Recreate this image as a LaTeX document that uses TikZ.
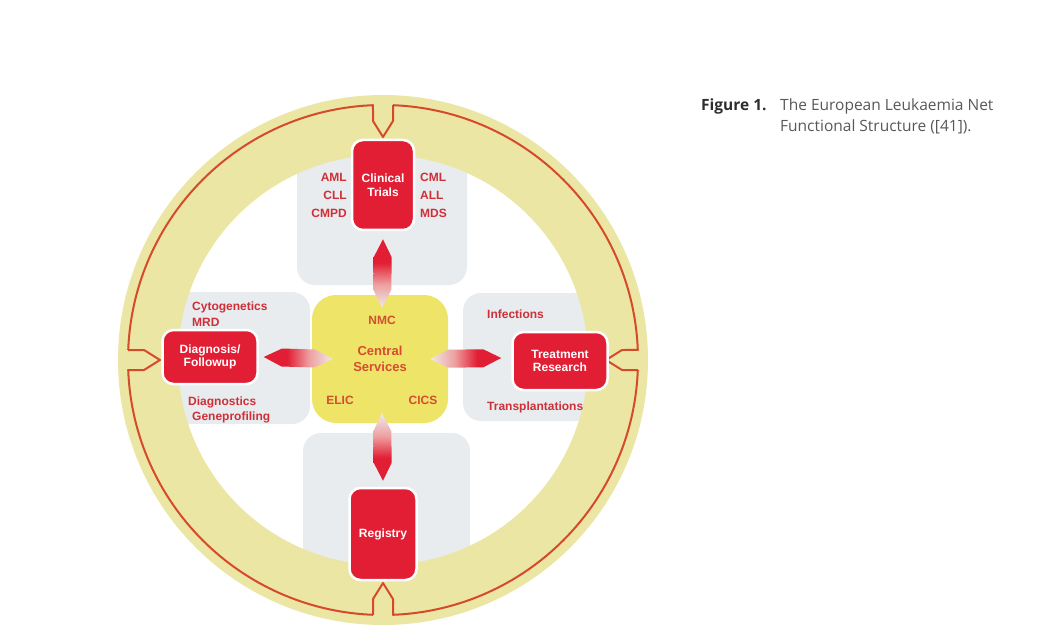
\documentclass[tikz,border=0pt]{standalone}
\usepackage{fontspec}
\setmainfont{Liberation Sans}
\newfontfamily\capfont{Open Sans}
\usetikzlibrary{calc}
\definecolor{ringyellow}{RGB}{236,230,164}
\definecolor{ringred}{RGB}{214,74,44}
\definecolor{panelgrey}{RGB}{232,236,239}
\definecolor{coreyellow}{RGB}{238,228,104}
\definecolor{boxred}{RGB}{226,30,52}
\definecolor{labelred}{RGB}{206,48,56}
\definecolor{corered}{RGB}{214,76,48}
\definecolor{tailgrey}{RGB}{238,234,234}
\definecolor{tailpink}{RGB}{238,160,160}
\definecolor{capdark}{RGB}{45,45,45}
\definecolor{capgrey}{RGB}{88,88,88}

\pgfdeclarehorizontalshading{pencilfade}{100bp}{color(0bp)=(boxred); color(25bp)=(boxred);
  color(42bp)=(boxred); color(58bp)=(tailpink); color(75bp)=(tailgrey); color(100bp)=(tailgrey)}

\tikzset{
  panel/.style={fill=panelgrey, rounded corners=18pt},
  ringline/.style={draw=ringred, line width=2pt, line join=round},
  unitbox/.style={fill=boxred, draw=white, line width=2.5pt, rounded corners=11pt,
    text=white, align=center, inner sep=0pt,
    font=\bfseries\fontsize{12}{13.5}\selectfont},
  tag/.style={text=labelred, inner sep=0pt, text height=9pt, text depth=2.5pt,
    font=\bfseries\fontsize{12}{14}\selectfont},
  coretag/.style={text=corered, inner sep=0pt,
    font=\bfseries\fontsize{12}{14}\selectfont},
}

% pencil shaped connector: #1 shading angle, #2 tail, #3 head
\newcommand\pencil[3]{%
  \coordinate (pt) at ($(#2)!18pt!(#3)$);
  \coordinate (ph) at ($(#3)!18pt!(#2)$);
  \shade[shading=pencilfade, shading angle=#1] (#2) -- ($(pt)!9pt!90:(#3)$) -- ($(ph)!9pt!-90:(#2)$) -- (#3)
    -- ($(ph)!9pt!90:(#2)$) -- ($(pt)!9pt!-90:(#3)$) -- cycle;
}

\begin{document}
\begin{tikzpicture}[x=1pt,y=-1pt]
  \useasboundingbox (0,0) rectangle (1046,644);

  % grey panels
  \fill[panel] (297,150) rectangle (467,285);
  \fill[panel] (172,292) rectangle (310,424);
  \fill[panel] (463,293) rectangle (612,421);
  \fill[panel] (303,433) rectangle (470,600);

  % ring
  \coordinate (ctr) at (383,360);
  \fill[ringyellow, even odd rule] (ctr) circle[radius=265] (ctr) circle[radius=205];
  \begin{scope}[shift={(ctr)}]
    \foreach \a in {0,90,180,270}
      \draw[ringline, rotate=\a] (2.25:255) arc[start angle=2.25, end angle=87.75, radius=255]
        -- (10,239) -- (0,223) -- (-10,239) -- (-10,254.8);
  \end{scope}

  % central services
  \node[fill=coreyellow, rounded corners=24pt, minimum width=136pt, minimum height=128pt,
    coretag, align=center, font=\bfseries\fontsize{13}{16}\selectfont] (central) at (380,359) {Central\\Services};
  \node[coretag] (nmc) at (382,320) {NMC};
  \node[coretag] (elic) at (340,400) {ELIC};
  \node[coretag] (cics) at (423,400) {CICS};

  % units
  \node[unitbox, minimum width=62pt, minimum height=90pt] (trials) at (383,185) {Clinical\\Trials};
  \node[unitbox, minimum width=95pt, minimum height=54pt] (diag) at (210,357) {Diagnosis/\\Followup};
  \node[unitbox, minimum width=95pt, minimum height=58pt] (treat) at (560,361) {Treatment\\Research};
  \node[unitbox, minimum width=67pt, minimum height=92pt] (registry) at (383,534) {Registry};

  % connectors
  \coordinate (t1) at ($(central.north)+(2,13)$);
  \coordinate (h1) at ($(trials.south)+(0,8)$);
  \coordinate (t2) at ($(central.west)+(21,0)$);
  \coordinate (h2) at ($(diag.east)+(5,0)$);
  \coordinate (t3) at ($(central.east)+(-18,0)$);
  \coordinate (h3) at ($(treat.west)+(-10,-3)$);
  \coordinate (t4) at ($(central.south)+(2,-10)$);
  \coordinate (h4) at ($(registry.north)+(0,-6)$);
  \pencil{-90}{t1}{h1}
  \pencil{0}{t2}{h2}
  \pencil{180}{t3}{h3}
  \pencil{90}{t4}{h4}

  % labels
  \foreach \txt/\y in {AML/178,CLL/196,CMPD/214}
    \node[tag, anchor=east] (l-\txt) at (347,\y) {\txt};
  \foreach \txt/\y in {CML/178,ALL/196,MDS/214}
    \node[tag, anchor=west] (r-\txt) at (420,\y) {\txt};
  \node[tag, anchor=west] (cyto) at (192,307) {Cytogenetics};
  \node[tag, anchor=west] (mrd) at (192,323) {MRD};
  \node[tag, anchor=west] (dgn) at (188,402) {Diagnostics};
  \node[tag, anchor=west] (gene) at (192,417) {Geneprofiling};
  \node[tag, anchor=west] (inf) at (487,315) {Infections};
  \node[tag, anchor=west] (trans) at (487,407) {Transplantations};

  % caption
  \node[anchor=base west, inner sep=0pt, text=capdark, font=\capfont\bfseries\fontsize{15.5}{21}\selectfont] (fignum) at (701,111) {Figure 1.};
  \node[anchor=base west, inner sep=0pt, text=capgrey, font=\capfont\fontsize{15.5}{21}\selectfont] (cap1) at (780,111) {The European Leukaemia Net};
  \node[anchor=base west, inner sep=0pt, text=capgrey, font=\capfont\fontsize{15.5}{21}\selectfont] (cap2) at (780,132) {Functional Structure ([41]).};
\end{tikzpicture}
\end{document}
